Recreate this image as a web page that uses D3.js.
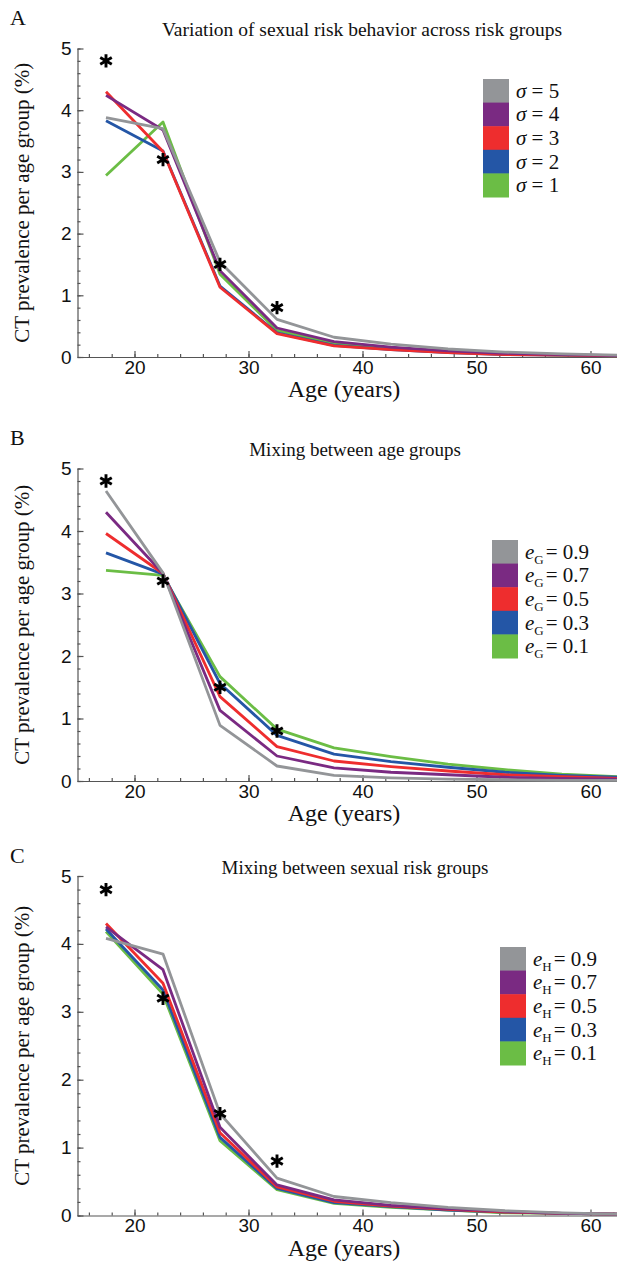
<!DOCTYPE html>
<html lang="en">
<head>
<meta charset="UTF-8">
<title>CT prevalence per age group</title>
<script src="https://cdnjs.cloudflare.com/ajax/libs/d3/7.8.5/d3.min.js"></script>
<style>
  body { margin: 0; background: #fff; }
  svg { display: block; }
  .tick text { font-family: "Liberation Sans", Arial, sans-serif; font-size: 19px; fill: #111; }
  .serif { font-family: "Liberation Serif", "Times New Roman", serif; fill: #111; }
</style>
</head>
<body>
<svg id="chart" width="617" height="1262"></svg>
<script>
// age group midpoints (years)
const ages = [17.5, 22.5, 27.5, 32.5, 37.5, 42.5, 47.5, 52.5, 57.5, 62.5];

// observed data (asterisks)
const starAges = [17.5, 22.5, 27.5, 32.5];
const starValues = [4.8, 3.2, 1.5, 0.8];

const xTicks = [20, 30, 40, 50, 60];
const yTicks = [0, 1, 2, 3, 4, 5];

// legend order top -> bottom: gray, purple, red, blue, green
const colors = ["#939598", "#7a2a82", "#ee2d2e", "#2456a6", "#6bbd45"];

// Panel A: variation of sexual risk behaviour (sigma)
const sigmaLabels = ["5", "4", "3", "2", "1"];
const sigma5 = [3.88, 3.70, 1.54, 0.61, 0.32, 0.21, 0.13, 0.08, 0.05, 0.03];
const sigma4 = [4.24, 3.68, 1.40, 0.47, 0.25, 0.16, 0.10, 0.06, 0.04, 0.02];
const sigma3 = [4.30, 3.33, 1.13, 0.38, 0.18, 0.12, 0.07, 0.04, 0.03, 0.02];
const sigma2 = [3.83, 3.34, 1.15, 0.39, 0.19, 0.12, 0.07, 0.04, 0.03, 0.02];
const sigma1 = [2.94, 3.81, 1.34, 0.43, 0.22, 0.14, 0.09, 0.05, 0.03, 0.02];

// Panel B: mixing between age groups (eG)
const eGLabels = ["0.9", "0.7", "0.5", "0.3", "0.1"];
const eG09 = [4.64, 3.33, 0.89, 0.24, 0.09, 0.05, 0.03, 0.02, 0.01, 0.01];
const eG07 = [4.30, 3.32, 1.13, 0.40, 0.21, 0.14, 0.10, 0.06, 0.04, 0.03];
const eG05 = [3.96, 3.32, 1.35, 0.55, 0.32, 0.23, 0.16, 0.10, 0.07, 0.04];
const eG03 = [3.65, 3.31, 1.56, 0.73, 0.43, 0.31, 0.22, 0.14, 0.09, 0.06];
const eG01 = [3.37, 3.29, 1.67, 0.83, 0.53, 0.39, 0.27, 0.18, 0.11, 0.07];

// Panel C: mixing between sexual risk groups (eH)
const eHLabels = ["0.9", "0.7", "0.5", "0.3", "0.1"];
const eH09 = [4.08, 3.85, 1.50, 0.55, 0.28, 0.19, 0.12, 0.07, 0.04, 0.02];
const eH07 = [4.25, 3.62, 1.30, 0.45, 0.23, 0.15, 0.10, 0.06, 0.03, 0.02];
const eH05 = [4.30, 3.42, 1.22, 0.42, 0.21, 0.14, 0.09, 0.05, 0.03, 0.02];
const eH03 = [4.22, 3.32, 1.15, 0.40, 0.19, 0.13, 0.08, 0.05, 0.03, 0.02];
const eH01 = [4.18, 3.26, 1.10, 0.38, 0.18, 0.12, 0.08, 0.04, 0.03, 0.02];

const panels = [
  { letter: "A", title: "Variation of sexual risk behavior across risk groups", titleX: 362, titleSize: 19.5,
    series: [sigma5, sigma4, sigma3, sigma2, sigma1], labels: sigmaLabels, sym: "σ", sub: null,
    top: 0, y5: 48.5, y0: 357, legendX: 483, legendY: 79 },
  { letter: "B", title: "Mixing between age groups", titleX: 355, titleSize: 19,
    series: [eG09, eG07, eG05, eG03, eG01], labels: eGLabels, sym: "e", sub: "G",
    top: 420, y5: 468.5, y0: 781, legendX: 492, legendY: 540 },
  { letter: "C", title: "Mixing between sexual risk groups", titleX: 355, titleSize: 19,
    series: [eH09, eH07, eH05, eH03, eH01], labels: eHLabels, sym: "e", sub: "H",
    top: 838, y5: 876, y0: 1215.5, legendX: 500, legendY: 947 }
];

const svg = d3.select("#chart");
const x = d3.scaleLinear().domain([15, 62.5]).range([77.5, 619]);

panels.forEach(p => {
  const g = svg.append("g");
  const y = d3.scaleLinear().domain([0, 5]).range([p.y0, p.y5]);

  // minor ticks
  g.append("g")
    .attr("transform", `translate(${x.range()[0]},0)`)
    .call(d3.axisLeft(y).tickValues(d3.range(0, 5.01, 0.2)).tickSize(-3).tickSizeOuter(0).tickFormat(""))
    .call(a => a.select(".domain").remove());
  g.append("g")
    .attr("transform", `translate(0,${p.y0})`)
    .call(d3.axisBottom(x).tickValues(d3.range(16, 63, 2)).tickSize(-3).tickSizeOuter(0).tickFormat(""))
    .call(a => a.select(".domain").remove());

  // major ticks + labels
  g.append("g")
    .attr("transform", `translate(${x.range()[0]},0)`)
    .call(d3.axisLeft(y).tickValues(yTicks).tickSize(-6).tickSizeOuter(0).tickPadding(6).tickFormat(d3.format("d")));
  g.append("g")
    .attr("transform", `translate(0,${p.y0})`)
    .call(d3.axisBottom(x).tickValues(xTicks).tickSize(-6).tickSizeOuter(0).tickPadding(3).tickFormat(d3.format("d")));

  g.selectAll(".domain, .tick line").attr("stroke", "#555").attr("stroke-width", 1.2);

  // lines: draw green first, gray last
  const line = d3.line().x((d, i) => x(ages[i])).y(d => y(d));
  const order = d3.range(p.series.length).reverse();
  g.append("g").selectAll("path")
    .data(order)
    .join("path")
    .attr("d", i => line(p.series[i]))
    .attr("fill", "none")
    .attr("stroke", i => colors[i])
    .attr("stroke-width", 2.8)
    .attr("stroke-linejoin", "round");

  // asterisks for data
  g.append("g").selectAll("path")
    .data(starValues)
    .join("path")
    .attr("transform", (d, i) => `translate(${x(starAges[i])},${y(d)})`)
    .attr("d", d3.symbol(d3.symbolAsterisk, 125))
    .attr("stroke", "#000")
    .attr("stroke-width", 2.9)
    .attr("fill", "none");

  // panel letter and title
  g.append("text").attr("class", "serif")
    .attr("x", 10).attr("y", p.top + 25)
    .attr("font-size", 22)
    .text(p.letter);
  g.append("text").attr("class", "serif")
    .attr("x", p.titleX).attr("y", p.top + 36)
    .attr("text-anchor", "middle")
    .attr("font-size", p.titleSize)
    .text(p.title);

  // axis titles
  g.append("text").attr("class", "serif")
    .attr("transform", `translate(29,${(p.y0 + p.y5) / 2}) rotate(-90)`)
    .attr("text-anchor", "middle")
    .attr("font-size", 21)
    .text("CT prevalence per age group (%)");
  g.append("text").attr("class", "serif")
    .attr("x", 344).attr("y", p.y0 + 40)
    .attr("text-anchor", "middle")
    .attr("font-size", 24)
    .text("Age (years)");

  // legend
  const rowH = 23.6;
  const leg = g.append("g").attr("transform", `translate(${p.legendX},${p.legendY})`);
  leg.selectAll("rect")
    .data(p.labels)
    .join("rect")
    .attr("x", 0).attr("y", (d, i) => i * rowH)
    .attr("width", 26).attr("height", rowH + 0.5)
    .attr("fill", (d, i) => colors[i]);
  const lt = leg.selectAll("text")
    .data(p.labels)
    .join("text")
    .attr("class", "serif")
    .attr("x", 33).attr("y", (d, i) => i * rowH + rowH / 2 + 7)
    .attr("font-size", 21);
  lt.append("tspan").attr("font-style", "italic").text(p.sym);
  if (p.sub) {
    lt.append("tspan").attr("font-size", 13).attr("dy", 5).text(p.sub);
    lt.append("tspan").attr("dy", -5).attr("dx", 2).text(d => "= " + d);
  } else {
    lt.append("tspan").text(d => " = " + d);
  }
});
</script>
</body>
</html>
